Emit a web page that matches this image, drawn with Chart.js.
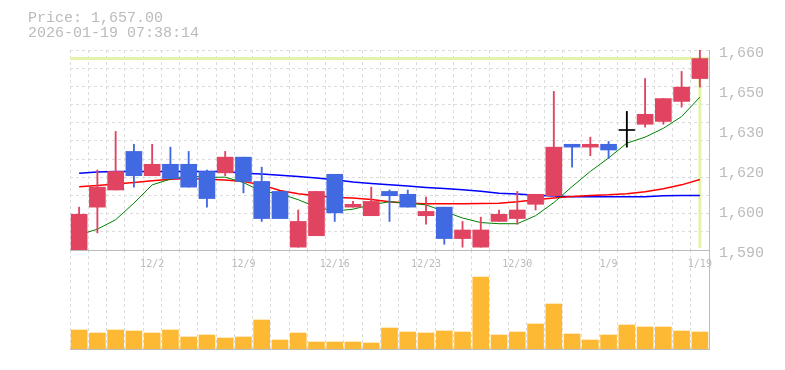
<!DOCTYPE html>
<html>
<head>
<meta charset="utf-8">
<script src="https://cdn.jsdelivr.net/npm/chart.js@4.4.1/dist/chart.umd.min.js"></script>
<style>
  body { margin: 0; background: #fff; }
  #wrap { position: relative; width: 785px; height: 370px; }
  #wrap canvas { position: absolute; left: 0; top: 0; }
  .info { position: absolute; left: 28px; top: 11px; font: 15px/15px "Liberation Mono", monospace; color: #bbb; white-space: pre; }
</style>
</head>
<body>
<div id="wrap">
  <canvas id="chartVolume" width="785" height="370"></canvas>
  <canvas id="chartPrice" width="785" height="370"></canvas>
  <div class="info">Price: 1,657.00
2026-01-19 07:38:14</div>
</div>
<script>
/*-------------------
    DATA
--------------------*/
const dates = ['11/26','11/27','11/28','12/1','12/2','12/3','12/4','12/5','12/8','12/9',
  '12/10','12/11','12/12','12/15','12/16','12/17','12/18','12/19','12/22','12/23',
  '12/24','12/25','12/26','12/29','12/30','1/5','1/6','1/7','1/8','1/9',
  '1/13','1/14','1/15','1/16','1/19'];
const tickDates = ['12/2','12/9','12/16','12/23','12/30','1/9','1/19'];
const priceTicks = ['1,590','1,600','1,620','1,630','1,650','1,660'];

const opens  = [1590, 1605, 1611, 1624.5, 1616, 1620, 1620, 1617.5, 1617, 1622.5,
  1614, 1610.5, 1591, 1595, 1616.5, 1605, 1602, 1610.5, 1609.5, 1602,
  1605, 1594, 1591, 1600, 1601, 1606, 1609, 1627, 1626, 1627,
  1632, 1634, 1635, 1642, 1650];
const highs  = [1605, 1618, 1631.5, 1627, 1627, 1626, 1624.5, 1618, 1624.5, 1622.5,
  1619, 1610.5, 1604, 1610.5, 1616.5, 1607, 1612, 1611, 1611, 1608.5,
  1605, 1600, 1601.5, 1604, 1610.5, 1609.5, 1645.5, 1627, 1629.5, 1628,
  1638.5, 1650, 1643, 1652.5, 1661];
const lows   = [1589, 1596, 1611, 1612, 1616, 1615, 1612, 1605, 1616, 1610,
  1600, 1601, 1591, 1595, 1600, 1605, 1602, 1600, 1605, 1599,
  1592, 1591, 1591, 1600, 1599, 1604, 1608, 1619, 1623, 1622,
  1626, 1633, 1634, 1640, 1647];
const closes = [1602.5, 1612, 1617.5, 1616, 1620, 1615, 1612, 1608, 1622.5, 1614,
  1601, 1601, 1600, 1610.5, 1603, 1606, 1607, 1609, 1605, 1603.5,
  1594, 1597, 1597, 1602.5, 1604, 1609.5, 1626, 1626, 1627, 1625,
  1632, 1637.5, 1643, 1647, 1657];

const ma5  = [1595.3, 1597.3, 1600.6, 1606.4, 1612.8, 1614.8, 1616.0, 1615.4, 1615.5, 1613.6,
  1610.5, 1609.7, 1607.6, 1605.0, 1603.6, 1604.3, 1605.8, 1606.9, 1606.4, 1605.8,
  1603.5, 1601.2, 1599.6, 1599.2, 1599.2, 1602.0, 1606.6, 1612.2, 1617.5, 1622.2,
  1627.4, 1629.5, 1632.6, 1636.7, 1643.5];
const ma25 = [1612.1, 1612.6, 1613.1, 1613.6, 1614.2, 1614.8, 1615.0, 1614.8, 1614.5, 1614.0,
  1612.8, 1610.8, 1609.7, 1609.0, 1608.4, 1608.2, 1607.7, 1606.9, 1606.4, 1606.2,
  1606.2, 1606.2, 1606.3, 1606.4, 1606.9, 1607.6, 1608.2, 1608.7, 1609.1, 1609.3,
  1609.7, 1610.4, 1611.4, 1612.8, 1614.7];
const ma75 = [1616.9, 1617.3, 1617.5, 1617.5, 1617.5, 1617.5, 1617.5, 1617.5, 1617.5, 1616.9,
  1616.6, 1616.2, 1615.7, 1615.2, 1614.6, 1613.8, 1613.3, 1612.8, 1612.4, 1611.9,
  1611.5, 1611.1, 1610.6, 1609.9, 1609.6, 1609.2, 1608.9, 1608.6, 1608.6, 1608.6,
  1608.6, 1608.6, 1609.0, 1609.1, 1609.1];

const volumes = [19000, 16000, 19000, 18000, 16000, 19000, 12000, 14000, 11000, 12000,
  29000, 9000, 16000, 7000, 7000, 7000, 6000, 21000, 17000, 16000,
  18000, 17000, 72000, 14000, 17000, 25000, 45000, 15000, 9000, 14000,
  24000, 22000, 22000, 18000, 17000];

/*-------------------
    CANDLES
--------------------*/
const UP = '#e04460', DOWN = '#4169e1', FLAT = '#000000';
const candleColors = opens.map((o, i) => closes[i] > o ? UP : (closes[i] < o ? DOWN : FLAT));
const bodies = opens.map((o, i) => [o, closes[i]]);
const wicks = lows.map((l, i) => [l, highs[i]]);
const dojis = opens.map((o, i) => o === closes[i] ? closes[i] : null);

const GRID = '#dcdcdc';
const AXIS = '#bbbbbb';

// current price cross (horizontal at last close, vertical down to the axis)
const lastMarker = {
    id: 'lastMarker',
    beforeDatasetsDraw(chart) {
        const {ctx, chartArea, scales} = chart;
        const i = closes.length - 1;
        const x = scales.x.getPixelForValue(i);
        const y = scales.y.getPixelForValue(closes[i]);
        ctx.save();
        ctx.strokeStyle = '#e3f4aa';
        ctx.lineWidth = 3;
        ctx.beginPath();
        ctx.moveTo(chartArea.left, y);
        ctx.lineTo(chartArea.right, y);
        ctx.moveTo(x, y);
        ctx.lineTo(x, chartArea.bottom - 2);
        ctx.stroke();
        ctx.restore();
    }
};

new Chart(document.getElementById('chartPrice'), {
    type: 'bar',
    data: {
        labels: dates,
        datasets: [
            {
                type: 'line', data: dojis, showLine: false,
                pointStyle: 'line', pointRadius: 8, pointBorderColor: FLAT, pointBorderWidth: 1.5,
                order: 0
            },
            { data: bodies, backgroundColor: candleColors, barThickness: 16, grouped: false, order: 1 },
            { data: wicks, backgroundColor: candleColors, barThickness: 1.2, grouped: false, order: 2 },
            { type: 'line', data: ma5, borderColor: '#008000', borderWidth: 1, pointRadius: 0, order: 3 },
            { type: 'line', data: ma25, borderColor: '#ff0000', borderWidth: 1.5, pointRadius: 0, order: 4 },
            { type: 'line', data: ma75, borderColor: '#0000ff', borderWidth: 1.5, pointRadius: 0, order: 5 }
        ]
    },
    options: {
        responsive: false,
        animation: false,
        layout: { padding: { left: 70, top: 50, right: 0, bottom: 100 } },
        plugins: { legend: { display: false }, tooltip: { enabled: false } },
        scales: {
            x: {
                offset: true,
                grid: { offset: true, color: GRID, drawTicks: false },
                border: { color: AXIS, dash: [3, 3] },
                ticks: {
                    autoSkip: false, maxRotation: 0, padding: 8, color: AXIS,
                    font: { family: 'DejaVu Sans Mono', size: 10 },
                    callback: (v) => tickDates.includes(dates[v]) ? dates[v] : ''
                },
                afterFit: (s) => { s.height = 20; }
            },
            y: {
                position: 'right', min: 1590, max: 1660,
                grid: { display: false },
                border: { color: AXIS },
                ticks: {
                    count: 6, padding: 2, labelOffset: 3, color: AXIS,
                    font: { family: 'Liberation Mono', size: 15 },
                    callback: (v, i) => priceTicks[i]
                },
                afterFit: (s) => { s.width = 76; }
            },
            yGrid: {
                axis: 'y', position: 'right', min: 1590, max: 1660,
                grid: { color: GRID, drawTicks: false },
                border: { display: false, dash: [3, 3] },
                ticks: { display: false, count: 12 },
                afterFit: (s) => { s.width = 0; }
            }
        }
    },
    plugins: [lastMarker]
});

/*-------------------
    VOLUME
--------------------*/
new Chart(document.getElementById('chartVolume'), {
    type: 'bar',
    data: {
        labels: dates,
        datasets: [{ data: volumes, backgroundColor: '#fdb933', barThickness: 16 }]
    },
    options: {
        responsive: false,
        animation: false,
        layout: { padding: { left: 70, top: 250, right: 0, bottom: 21 } },
        plugins: { legend: { display: false }, tooltip: { enabled: false } },
        scales: {
            x: {
                offset: true,
                grid: { offset: true, color: GRID, drawTicks: false },
                border: { color: AXIS, dash: [3, 3] },
                ticks: { display: false },
                afterFit: (s) => { s.height = 0; }
            },
            y: {
                position: 'right', min: 0, max: 99000,
                grid: { display: false },
                border: { color: AXIS },
                ticks: { display: false },
                afterFit: (s) => { s.width = 76; }
            }
        }
    }
});
</script>
</body>
</html>
